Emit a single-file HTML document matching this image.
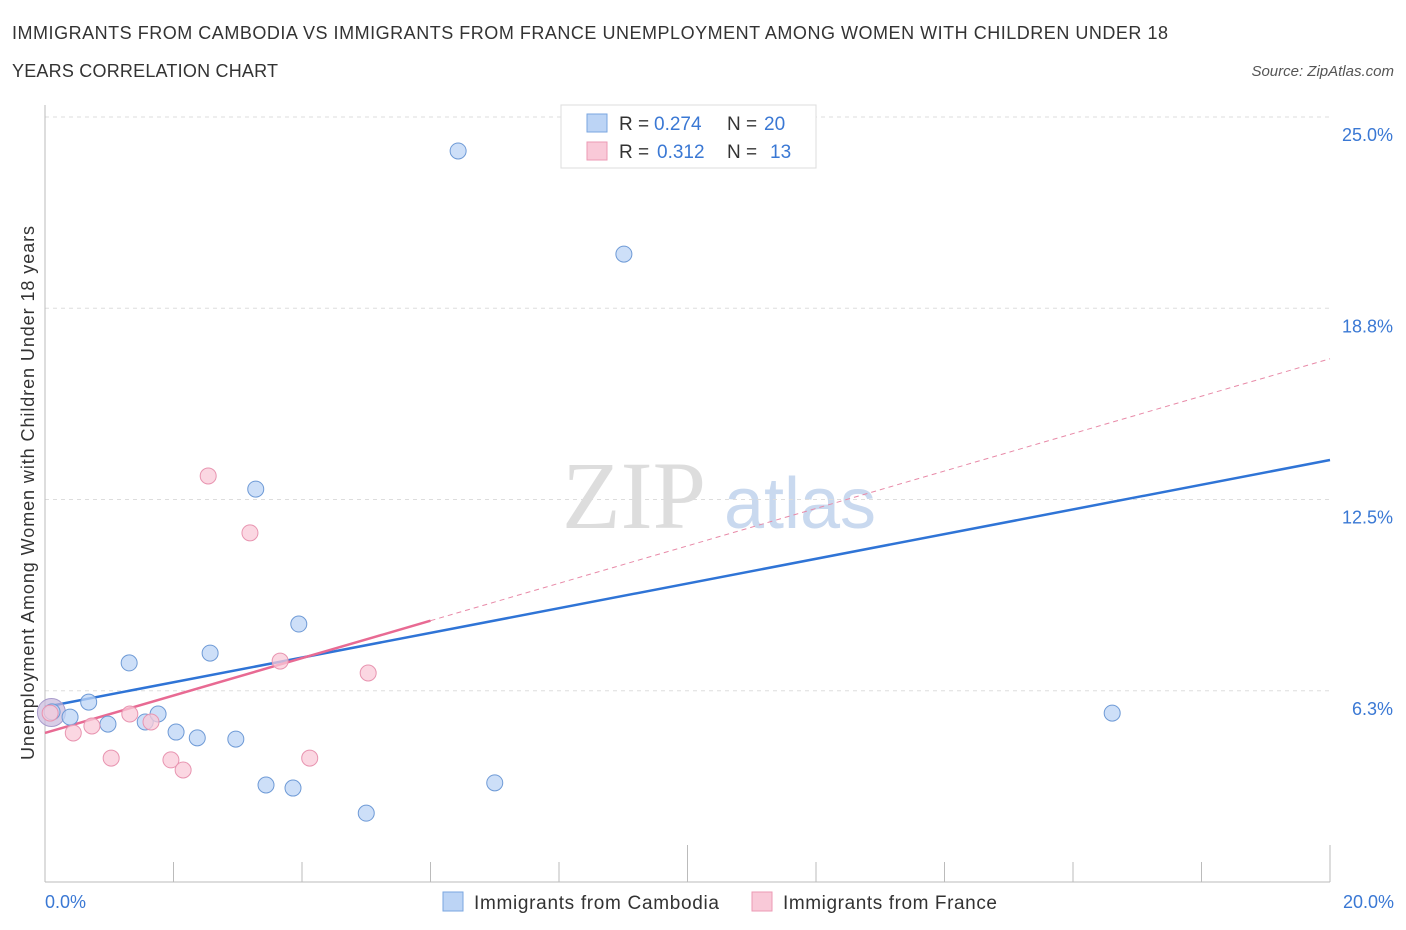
<!DOCTYPE html>
<html><head><meta charset="utf-8"><style>
body{margin:0;background:#fff;font-family:"Liberation Sans",sans-serif;}
svg{display:block}
</style></head><body>
<svg width="1406" height="930" xmlns="http://www.w3.org/2000/svg">
<text x="12" y="39" font-size="18" fill="#333" textLength="1156" lengthAdjust="spacing">IMMIGRANTS FROM CAMBODIA VS IMMIGRANTS FROM FRANCE UNEMPLOYMENT AMONG WOMEN WITH CHILDREN UNDER 18</text>
<text x="12" y="77" font-size="18" fill="#333" textLength="266" lengthAdjust="spacing">YEARS CORRELATION CHART</text>
<text x="1394" y="76" font-size="15" fill="#555" font-style="italic" text-anchor="end">Source: ZipAtlas.com</text>
<text x="634" y="528" font-size="96" fill="#ddd" font-family="Liberation Serif,serif" text-anchor="middle">ZIP</text>
<text x="800" y="528" font-size="72" fill="#c9d9ef" text-anchor="middle">atlas</text>
<g id="grid"></g>
<g id="marks"></g>
<text transform="translate(34,493) rotate(-90)" font-size="18" fill="#333" text-anchor="middle" textLength="534" lengthAdjust="spacing">Unemployment Among Women with Children Under 18 years</text>
<text x="45" y="908" font-size="18" fill="#3a78d4">0.0%</text>
<text x="1394" y="908" font-size="18" fill="#3a78d4" text-anchor="end">20.0%</text>
<g>
<rect x="561" y="105" width="255" height="63" fill="#fff" stroke="#ddd"/>
<rect x="587" y="114" width="20" height="18" fill="#bcd4f5" stroke="#7aa6e0"/>
<rect x="587" y="142" width="20" height="18" fill="#f9c9d8" stroke="#ec9ab4"/>
<text x="619" y="130" font-size="19" fill="#333">R =</text>
<text x="654" y="130" font-size="19" fill="#3a78d4">0.274</text>
<text x="727" y="130" font-size="19" fill="#333">N =</text>
<text x="764" y="130" font-size="19" fill="#3a78d4">20</text>
<text x="619" y="158" font-size="19" fill="#333">R =</text>
<text x="657" y="158" font-size="19" fill="#3a78d4">0.312</text>
<text x="727" y="158" font-size="19" fill="#333">N =</text>
<text x="770" y="158" font-size="19" fill="#3a78d4">13</text>
</g>
<g>
<rect x="443" y="892" width="20" height="19" fill="#bcd4f5" stroke="#7aa6e0"/>
<text x="474" y="909" font-size="19" fill="#333" textLength="245" lengthAdjust="spacing">Immigrants from Cambodia</text>
<rect x="752" y="892" width="20" height="19" fill="#f9c9d8" stroke="#ec9ab4"/>
<text x="783" y="909" font-size="19" fill="#333" textLength="214" lengthAdjust="spacing">Immigrants from France</text>
</g>
</svg>
<script>
const yTicks=[25.0,18.75,12.5,6.25];
const yTickLabels=["25.0%","18.8%","12.5%","6.3%"];
const camX=[0.11,0.39,0.68,0.98,1.31,1.56,1.76,2.04,2.37,2.57,2.97,3.28,3.44,3.86,3.95,5.0,6.43,7.0,9.01,16.61];
const camY=[5.56,5.39,5.88,5.16,7.16,5.23,5.49,4.90,4.71,7.48,4.67,12.84,3.17,3.07,8.43,2.25,23.89,3.24,20.52,5.52];
const frX=[0.08,0.44,0.73,1.03,1.32,1.65,1.96,2.15,2.54,3.19,3.66,4.12,5.03];
const frY=[5.52,4.87,5.10,4.05,5.49,5.23,3.99,3.66,13.27,11.41,7.22,4.05,6.83];
const camLine=[5.72,13.79];
const frLine=[4.87,17.1];
const frSolidEnd=6.0;
const NS="http://www.w3.org/2000/svg";
const X=v=>45+v*64.25, Y=v=>882-v*30.6;
function mk(t,a,p){const e=document.createElementNS(NS,t);for(const k in a)e.setAttribute(k,a[k]);p.appendChild(e);return e;}
const g=document.getElementById('grid'),m=document.getElementById('marks');
yTicks.forEach((t,i)=>{
 const gl=mk('line',{x1:45,x2:1330,y1:Y(t),y2:Y(t),stroke:'#ddd','stroke-dasharray':'4,4'},g);
 
 
 const tx=mk('text',{x:1393,y:Y(t)+24,'font-size':18,fill:'#3a78d4','text-anchor':'end'},g);tx.textContent=yTickLabels[i];
 
 
});
const ax=mk('line',{x1:45,x2:1330,y1:882,y2:882,stroke:'#bbb'},g);


const ay=mk('line',{x1:45,x2:45,y1:105,y2:882,stroke:'#bbb'},g);


for(let i=0;i<=10;i++){const tk=mk('line',{x1:X(i*2),x2:X(i*2),y1:(i==5||i==10)?845:862,y2:882,stroke:'#bbb'},g);
 
 }
const bl=mk('line',{x1:X(0),y1:Y(camLine[0]),x2:X(20),y2:Y(camLine[1]),stroke:'#2f74d6','stroke-width':2.5},m);


const fy=x=>frLine[0]+(frLine[1]-frLine[0])*x/20;
const pd=mk('line',{x1:X(frSolidEnd),y1:Y(fy(frSolidEnd)),x2:X(20),y2:Y(fy(20)),stroke:'#e88aa8','stroke-width':1,'stroke-dasharray':'5,4'},m);


const pl=mk('line',{x1:X(0),y1:Y(fy(0)),x2:X(frSolidEnd),y2:Y(fy(frSolidEnd)),stroke:'#e86a93','stroke-width':2.5},m);


const big=mk('circle',{cx:X(0.1),cy:Y(5.54),r:14,fill:'#c8b8dc','fill-opacity':0.7,stroke:'#a99ccc'},m);


camX.forEach((x,i)=>{const c=mk('circle',{cx:X(x),cy:Y(camY[i]),r:8,fill:'#bcd4f5','fill-opacity':0.75,stroke:'#6e9ad6'},m);
 
 });
frX.forEach((x,i)=>{const c=mk('circle',{cx:X(x),cy:Y(frY[i]),r:8,fill:'#f9c9d8','fill-opacity':0.75,stroke:'#e894b0'},m);
 
 });
</script>
</body></html>
